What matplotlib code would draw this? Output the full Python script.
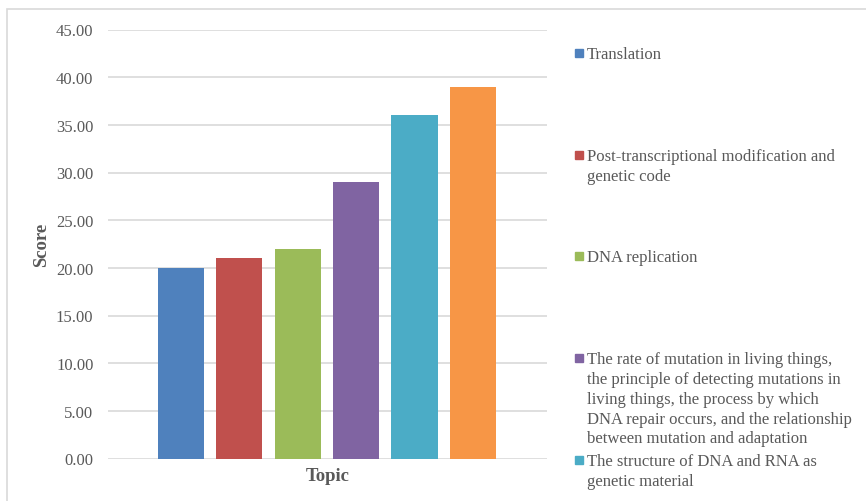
import matplotlib.pyplot as plt
from matplotlib.patches import Rectangle

plt.rcParams['font.family'] = ['Liberation Serif', 'DejaVu Serif']

# topic scores
scores = [20, 21, 22, 29, 36, 39]
colors = ['#4f81bd', '#c0504d', '#9bbb59', '#8064a2', '#4bacc6', '#f79646']
topics = [
    "Translation",
    "Post-transcriptional modification and\ngenetic code",
    "DNA replication",
    "The rate of mutation in living things,\nthe principle of detecting mutations in\nliving things, the process by which\nDNA repair occurs, and the relationship\nbetween mutation and adaptation",
    "The structure of DNA and RNA as\ngenetic material",
]
yticks = [0, 5, 10, 15, 20, 25, 30, 35, 40, 45]

W, H = 866, 502
fig = plt.figure(figsize=(W / 100, H / 100), dpi=100)
txt = '#595959'

# outer chart frame
fig.patches.append(Rectangle((7 / W, -0.1), 1.2, 1 - 10 / H + 0.1,
                             transform=fig.transFigure, fill=False,
                             edgecolor='#d9d9d9', linewidth=1.2))

ax = fig.add_axes([108 / W, 1 - 459.5 / H, (547 - 108) / W, (459.5 - 30.5) / H])
x = list(range(len(scores)))
ax.bar(x, scores, width=0.79, color=colors, zorder=3)
ax.set_xlim(-1.25, 6.27)
ax.set_ylim(0, 45)
ax.set_yticks(yticks)
ax.set_yticklabels([f"{v:.2f}" for v in yticks], color=txt, fontsize=12)
ax.set_xticks([])
ax.tick_params(axis='y', length=0, pad=10.5)
ax.grid(axis='y', color='#d9d9d9', linewidth=1.2, zorder=0)
for s in ax.spines.values():
    s.set_visible(False)
ax.set_ylabel("Score", fontsize=13.5, fontweight='bold', color=txt)
ax.yaxis.set_label_coords(-0.133, 0.5)
ax.set_xlabel("Topic", fontsize=13.5, fontweight='bold', color=txt, va='top')
ax.xaxis.set_label_coords(0.5, -0.02)

# legend entries on the right
for i, name in enumerate(topics):
    yc = 54 + i * 101.7
    fig.patches.append(Rectangle((575 / W, 1 - (yc + 4) / H), 8 / W, 8 / H,
                                 transform=fig.transFigure, color=colors[i]))
    fig.text(587 / W, 1 - (yc - 7) / H, name, fontsize=12, color=txt,
             va='top', ha='left', linespacing=1.32)

fig.savefig("out.png", dpi=100)
